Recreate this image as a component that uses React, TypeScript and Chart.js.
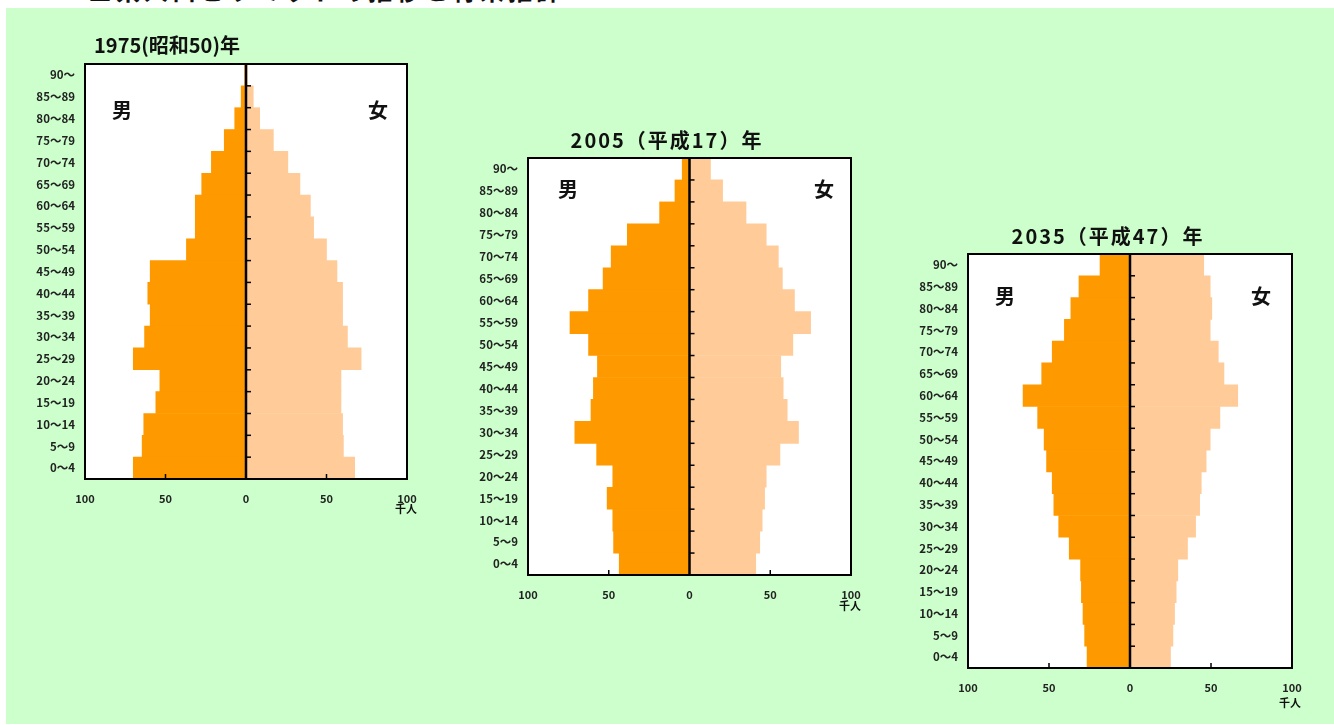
import React, { useEffect, useRef } from "react";
import { Chart, registerables } from "chart.js";

Chart.register(...registerables);

// ---- data (top row first) ----
const AGE_LABELS = [
  "90～", "85～89", "80～84", "75～79", "70～74", "65～69", "60～64", "55～59", "50～54",
  "45～49", "40～44", "35～39", "30～34", "25～29", "20～24", "15～19", "10～14", "5～9", "0～4",
];
const X_TICKS = [-100, -50, 0, 50, 100];

const TITLE_1975 = "1975(昭和50)年";
const TITLE_2005 = "2005（平成17）年";
const TITLE_2035 = "2035（平成47）年";

const MALE_1975 = [0.8, 3, 7, 13.5, 21.5, 27.5, 31.5, 31.5, 37, 59.5, 61, 59.5, 63, 70, 53.5, 56, 63.5, 64.5, 70];
const FEMALE_1975 = [0.8, 4.5, 8.5, 17, 26, 33.5, 40, 42, 50, 56.5, 60, 60, 63, 71.5, 59, 59, 60, 60.5, 67.5];

const MALE_2005 = [4.5, 9, 18.5, 38.5, 48.5, 53.5, 62.5, 74, 62.5, 57, 59.5, 61, 71, 57.5, 47.5, 51, 47.5, 47, 43.5];
const FEMALE_2005 = [13, 20.5, 35, 47.5, 55, 57.5, 65, 75, 64, 56.5, 58, 60.5, 67.5, 56, 47.5, 46.5, 45, 43.5, 41];

const MALE_2035 = [18.5, 31.5, 36.5, 40.5, 48, 54.5, 66, 57, 53, 51.5, 48, 47, 44, 37.5, 30.5, 30, 29, 28, 26.5];
const FEMALE_2035 = [45.5, 49.5, 50.5, 49.5, 54.5, 58, 66.5, 55.5, 49.5, 47, 44, 43, 40.5, 35.5, 29.5, 28.5, 27.5, 26.5, 25];

const MALE_LABEL = "男";
const FEMALE_LABEL = "女";
const UNIT_LABEL = "千人";
const HEADER = "■県人口ピラミッドの推移と将来推計";

const MALE_COLOR = "#ff9900";
const FEMALE_COLOR = "#ffcc99";
const BG_GREEN = "#ccffcc";
const FONT = "'Noto Sans CJK JP', 'Noto Sans', sans-serif";

type Layout = {
  left: number; top: number; width: number; height: number;
  yw: number; pr: number; pt: number; xh: number;
};

const pyramidDecor = {
  id: "pyramidDecor",
  afterDatasetsDraw(chart: any) {
    const { ctx, chartArea, scales } = chart;
    const { left, right, top, bottom } = chartArea;
    const x0 = scales.x.getPixelForValue(0);
    ctx.save();
    ctx.strokeStyle = "#000";
    // border
    ctx.lineWidth = 2;
    ctx.strokeRect(left, top, right - left, bottom - top);
    // center line
    ctx.lineWidth = 2.5;
    ctx.beginPath();
    ctx.moveTo(x0, top);
    ctx.lineTo(x0, bottom);
    ctx.stroke();
    // row boundary ticks on center line
    ctx.lineWidth = 1.5;
    const n = chart.data.labels.length;
    for (let i = 1; i < n; i++) {
      const y = (scales.y.getPixelForValue(i - 1) + scales.y.getPixelForValue(i)) / 2;
      ctx.beginPath();
      ctx.moveTo(x0, y);
      ctx.lineTo(x0 + 5, y);
      ctx.stroke();
    }
    // bottom ticks at ±50
    [-50, 50].forEach((v) => {
      const x = scales.x.getPixelForValue(v);
      ctx.beginPath();
      ctx.moveTo(x, bottom);
      ctx.lineTo(x, bottom - 5);
      ctx.stroke();
    });
    ctx.restore();
  },
};

function Pyramid({ male, female, layout }: { male: number[]; female: number[]; layout: Layout }) {
  const ref = useRef<HTMLCanvasElement>(null);
  useEffect(() => {
    if (!ref.current) return;
    const chart = new Chart(ref.current, {
      type: "bar",
      data: {
        labels: AGE_LABELS,
        datasets: [
          {
            label: MALE_LABEL,
            data: male.map((v) => -v),
            backgroundColor: MALE_COLOR,
            borderWidth: 0,
            barPercentage: 1,
            categoryPercentage: 1,
          },
          {
            label: FEMALE_LABEL,
            data: female,
            backgroundColor: FEMALE_COLOR,
            borderWidth: 0,
            barPercentage: 1,
            categoryPercentage: 1,
          },
        ],
      },
      options: {
        indexAxis: "y",
        responsive: false,
        animation: false,
        devicePixelRatio: 1,
        layout: { padding: { top: layout.pt, right: layout.pr, left: 0, bottom: 0 } },
        plugins: { legend: { display: false }, tooltip: { enabled: false }, title: { display: false } },
        scales: {
          x: {
            type: "linear",
            min: -100,
            max: 100,
            stacked: true,
            grid: { display: false, drawTicks: false },
            border: { display: false },
            afterBuildTicks: (s: any) => {
              s.ticks = X_TICKS.map((v) => ({ value: v }));
            },
            ticks: {
              callback: (v: any) => String(Math.abs(Number(v))),
              font: { family: FONT, size: 11, weight: "bold" },
              color: "#222",
              padding: 13,
              maxRotation: 0,
              autoSkip: false,
            },
            afterFit: (s: any) => {
              s.height = layout.xh;
              s.paddingLeft = 0;
              s.paddingRight = 0;
            },
          },
          y: {
            type: "category",
            stacked: true,
            grid: { display: false, drawTicks: false },
            border: { display: false },
            ticks: {
              font: { family: FONT, size: 11.5, weight: "bold" },
              color: "#222",
              padding: 10,
              autoSkip: false,
            },
            afterFit: (s: any) => {
              s.width = layout.yw;
              s.paddingTop = 0;
              s.paddingBottom = 0;
            },
          },
        },
      },
      plugins: [
        {
          id: "whiteArea",
          beforeDatasetsDraw(c: any) {
            const { ctx, chartArea } = c;
            ctx.save();
            ctx.fillStyle = "#ffffff";
            ctx.fillRect(chartArea.left, chartArea.top, chartArea.right - chartArea.left, chartArea.bottom - chartArea.top);
            ctx.restore();
          },
        },
        pyramidDecor,
      ],
    } as any);
    return () => chart.destroy();
  }, [male, female, layout]);
  return (
    <canvas
      ref={ref}
      width={layout.width}
      height={layout.height}
      style={{ position: "absolute", left: layout.left, top: layout.top, width: layout.width, height: layout.height }}
    />
  );
}

const LAYOUT_1975: Layout = { left: 20, top: 20, width: 400, height: 500, yw: 65, pr: 13, pt: 44, xh: 41 };
const LAYOUT_2005: Layout = { left: 460, top: 115, width: 405, height: 500, yw: 68, pr: 14, pt: 43, xh: 40 };
const LAYOUT_2035: Layout = { left: 900, top: 210, width: 405, height: 500, yw: 68, pr: 13, pt: 44, xh: 42 };

function Label({ text, cx, cy, size, spacing = 0 }: { text: string; cx: number; cy: number; size: number; spacing?: number }) {
  return (
    <div
      style={{
        position: "absolute",
        left: cx - 150,
        top: cy - size * 0.6,
        width: 300,
        height: size * 1.2,
        lineHeight: `${size * 1.2}px`,
        textAlign: "center",
        fontFamily: FONT,
        fontWeight: 700,
        fontSize: size,
        letterSpacing: spacing,
        color: "#111",
        whiteSpace: "nowrap",
      }}
    >
      {text}
    </div>
  );
}

export default function App() {
  return (
    <div style={{ position: "absolute", left: 0, top: 0, width: 1334, height: 725, background: "#fff", overflow: "hidden" }}>
      <div
        style={{
          position: "absolute",
          left: 88,
          top: -22,
          fontFamily: FONT,
          fontWeight: 700,
          fontSize: 24,
          lineHeight: "24px",
          color: "#111",
          whiteSpace: "nowrap",
          letterSpacing: 4,
        }}
      >
        {HEADER}
      </div>
      <div style={{ position: "absolute", left: 6, top: 8, width: 1328, height: 716, background: BG_GREEN }} />
      <Pyramid male={MALE_1975} female={FEMALE_1975} layout={LAYOUT_1975} />
      <Pyramid male={MALE_2005} female={FEMALE_2005} layout={LAYOUT_2005} />
      <Pyramid male={MALE_2035} female={FEMALE_2035} layout={LAYOUT_2035} />

      <Label text={TITLE_1975} cx={167} cy={45} size={20} />
      <Label text={TITLE_2005} cx={667} cy={140} size={20} spacing={2} />
      <Label text={TITLE_2035} cx={1108} cy={236} size={20} spacing={2} />

      <Label text={MALE_LABEL} cx={122} cy={110} size={20} />
      <Label text={FEMALE_LABEL} cx={378} cy={110} size={20} />
      <Label text={MALE_LABEL} cx={568} cy={189} size={20} />
      <Label text={FEMALE_LABEL} cx={824} cy={189} size={20} />
      <Label text={MALE_LABEL} cx={1005} cy={296} size={20} />
      <Label text={FEMALE_LABEL} cx={1261} cy={296} size={20} />

      <Label text={UNIT_LABEL} cx={406} cy={509} size={11} />
      <Label text={UNIT_LABEL} cx={850} cy={606} size={11} />
      <Label text={UNIT_LABEL} cx={1290} cy={703} size={11} />
    </div>
  );
}
